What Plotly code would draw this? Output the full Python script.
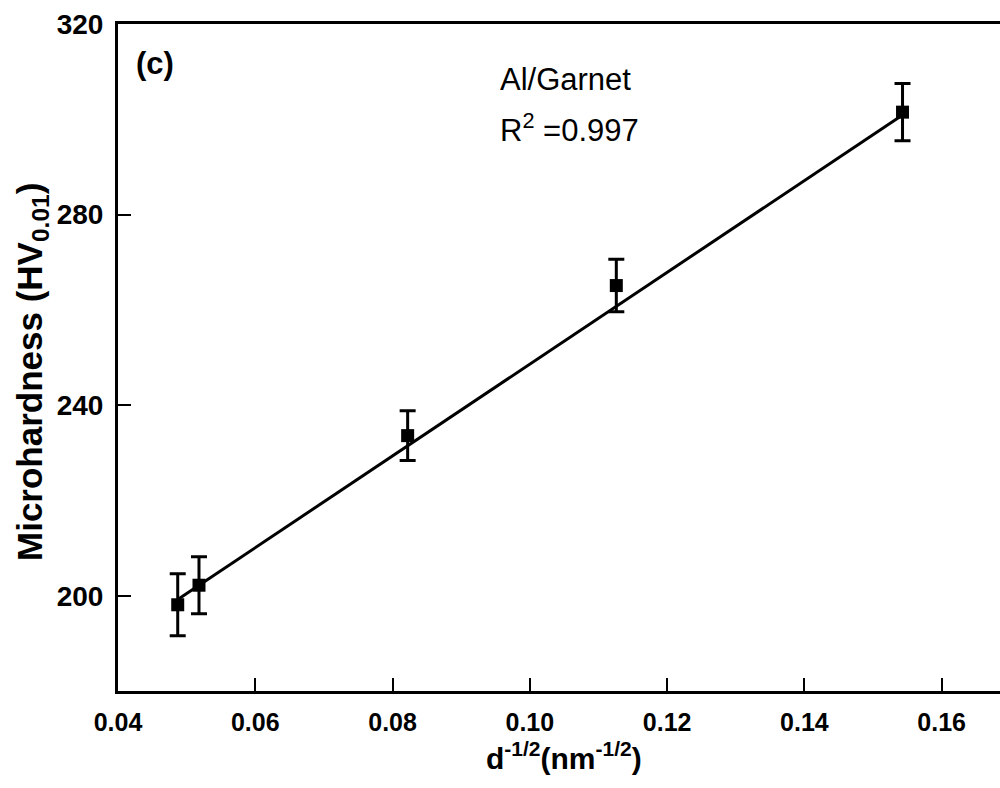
import plotly.graph_objects as go

# Data
x_vals = [0.0487, 0.0518, 0.0822, 0.1126, 0.1543]
y_vals = [198.1, 202.2, 233.6, 265.1, 301.5]
y_err = [6.5, 6.0, 5.2, 5.5, 6.0]

# Linear fit line endpoints
fit_x = [0.0487, 0.1543]
fit_y = [199.2, 300.9]

x_ticks = [0.04, 0.06, 0.08, 0.10, 0.12, 0.14, 0.16]
x_tick_text = ["0.04", "0.06", "0.08", "0.10", "0.12", "0.14", "0.16"]
y_ticks = [200, 240, 280, 320]
y_tick_text = ["200", "240", "280", "320"]

FONT = "Liberation Sans, Arial, sans-serif"

fig = go.Figure()
fig.add_trace(go.Scatter(
    x=fit_x, y=fit_y, mode="lines",
    line=dict(color="black", width=3), showlegend=False, hoverinfo="skip"))
fig.add_trace(go.Scatter(
    x=x_vals, y=y_vals, mode="markers",
    marker=dict(symbol="square", size=13, color="black"),
    error_y=dict(type="data", array=y_err, visible=True, color="black",
                 thickness=3, width=8),
    showlegend=False))

fig.update_layout(
    width=1000, height=788,
    margin=dict(l=118, r=0, t=24, b=97),
    paper_bgcolor="white", plot_bgcolor="white",
    font=dict(family=FONT, color="black"),
    xaxis=dict(range=[0.04, 0.1685], tickvals=x_ticks, ticktext=x_tick_text,
               ticks="inside", ticklen=13, tickwidth=2, tickcolor="black",
               showline=True, linecolor="black", linewidth=3, mirror=True,
               showgrid=False, zeroline=False, automargin=False,
               tickfont=dict(family=FONT, size=25, color="black", weight="bold"),
               ticklabelstandoff=7),
    yaxis=dict(range=[180, 320], tickvals=y_ticks, ticktext=y_tick_text,
               ticks="inside", ticklen=13, tickwidth=2, tickcolor="black",
               showline=True, linecolor="black", linewidth=3,
               showgrid=False, zeroline=False, automargin=False,
               tickfont=dict(family=FONT, size=28, color="black", weight="bold"),
               ticklabelstandoff=6),
    annotations=[
        dict(text="<b>d<sup>-1/2</sup>(nm<sup>-1/2</sup>)</b>", xref="paper", yref="paper",
             x=(564 - 118) / 882, y=-(756 - 691) / 667, showarrow=False,
             font=dict(family=FONT, size=30, color="black"), xanchor="center", yanchor="middle"),
        dict(text="<b>Microhardness (HV<sub>0.01</sub>)</b>", xref="paper", yref="paper",
             x=-(118 - 32) / 882, y=(691 - 372) / 667, showarrow=False, textangle=-90,
             font=dict(family=FONT, size=35, color="black"), xanchor="center", yanchor="middle"),
        dict(text="<b>(c)</b>", xref="paper", yref="paper",
             x=(134 - 118) / 882, y=(691 - 63) / 667, showarrow=False,
             font=dict(family=FONT, size=31, color="black"), xanchor="left", yanchor="middle"),
        dict(text="Al/Garnet", xref="paper", yref="paper",
             x=(498 - 118) / 882, y=(691 - 80) / 667, showarrow=False,
             font=dict(family=FONT, size=31, color="black"), xanchor="left", yanchor="middle"),
        dict(text="R<sup>2</sup> =0.997", xref="paper", yref="paper",
             x=(498 - 118) / 882, y=(691 - 128) / 667, showarrow=False,
             font=dict(family=FONT, size=31, color="black"), xanchor="left", yanchor="middle"),
    ],
)

fig.write_html("out.html")
